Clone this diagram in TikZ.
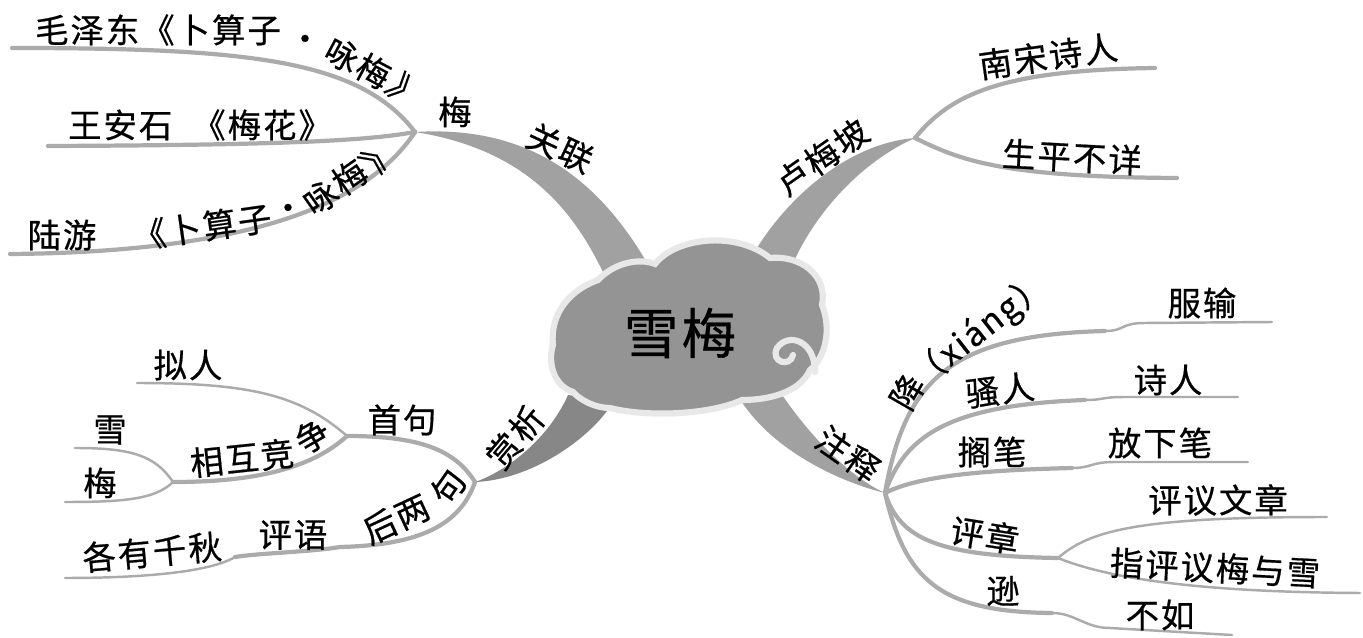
\documentclass[tikz,border=0pt]{standalone}
\usepackage{fontspec}
\newfontfamily\cjk[LetterSpace=6, FakeBold=0.6]{Noto Sans CJK SC}

\begin{document}
\begin{tikzpicture}[
	x=0.02cm, y=-0.02cm,
	txt/.style={inner sep=0pt, font=\cjk\fontsize{19}{22}\selectfont},
	bigtxt/.style={inner sep=0pt, font=\cjk\fontsize{31}{36}\selectfont},
	twig/.style={draw=black!33, line width=2.4pt, line cap=round},
	sprig/.style={draw=black!33, line width=1.4pt, line cap=round},
	limb/.style={fill=black!37},
	cloudy/.style={fill=black!42, draw=black!9, line width=3.5pt},
	swirl/.style={draw=black!9, line width=3.5pt, line cap=round}
	]
	\fill[white] (0,0) rectangle (1363,638);
	\useasboundingbox (0,0) rectangle (1363,638);

	\coordinate (jgl) at (415,132);
	\coordinate (jlu) at (915,138);
	\coordinate (jsx) at (475,482);
	\coordinate (jzs) at (885,493);
	\coordinate (gl1) at (603,272);
	\coordinate (gl2) at (650,268);
	\coordinate (lu1) at (757,248);
	\coordinate (lu2) at (790,270);
	\coordinate (sx1) at (568,395);
	\coordinate (sx2) at (614,401);
	\coordinate (zs1) at (738,396);
	\coordinate (zs2) at (778,389);

	\coordinate (mz) at (12,48);
	\coordinate (wa) at (48,146);
	\coordinate (ly) at (10,254);
	\coordinate (ns) at (1155,68);
	\coordinate (sp) at (1177,178);
	\coordinate (jsj) at (347,436);
	\coordinate (jxh) at (173,482);
	\coordinate (jhl) at (340,547);
	\coordinate (jpy) at (235,557);
	\coordinate (nr) at (137,383);
	\coordinate (xue) at (75,448);
	\coordinate (mei) at (65,502);
	\coordinate (gy) at (65,578);
	\coordinate (jx) at (1105,331);
	\coordinate (jsr) at (1085,400);
	\coordinate (jgb) at (1072,468);
	\coordinate (jpz) at (1058,558);
	\coordinate (jxun) at (1052,613);
	\coordinate (fs) at (1272,322);
	\coordinate (sr) at (1238,397);
	\coordinate (fx) at (1248,462);
	\coordinate (py) at (1327,517);
	\coordinate (zp) at (1360,593);
	\coordinate (br) at (1232,635);

	\fill[limb] (jgl) .. controls (530,125) and (600,180) .. (gl2) -- (gl1) .. controls (575,215) and (530,150) .. (jgl) -- cycle;
	\fill[limb] (jlu) .. controls (850,143) and (790,195) .. (lu1) -- (lu2) .. controls (815,210) and (865,160) .. (jlu) -- cycle;
	\fill[limb, fill=black!47] (jsx) .. controls (505,472) and (548,440) .. (sx1) -- (sx2) .. controls (590,440) and (530,480) .. (jsx) -- cycle;
	\fill[limb] (jzs) .. controls (840,482) and (770,450) .. (zs1) -- (zs2) .. controls (812,440) and (852,478) .. (jzs) -- cycle;

	\draw[twig] (jgl) .. controls (360,60) and (250,48) .. (mz);
	\draw[twig] (jgl) .. controls (370,140) and (300,145) .. (wa);
	\draw[twig] (jgl) .. controls (370,200) and (260,252) .. (ly);
	\draw[twig] (jlu) .. controls (950,95) and (1000,70) .. (ns);
	\draw[twig] (jlu) .. controls (960,160) and (1000,177) .. (sp);

	\draw[twig] (jsx) .. controls (455,450) and (420,436) .. (jsj);
	\draw[twig] (jsx) .. controls (460,525) and (420,545) .. (jhl);
	\draw[sprig] (jsj) .. controls (300,395) and (250,383) .. (nr);
	\draw[twig] (jsj) .. controls (310,470) and (250,482) .. (jxh);
	\draw[sprig] (jxh) .. controls (155,455) and (130,448) .. (xue);
	\draw[sprig] (jxh) .. controls (155,500) and (120,502) .. (mei);
	\draw[twig] (jhl) .. controls (310,552) and (260,553) .. (jpy);
	\draw[sprig] (jpy) .. controls (205,575) and (120,578) .. (gy);

	\draw[twig] (jzs) .. controls (905,380) and (950,335) .. (jx);
	\draw[sprig] (jx) .. controls (1125,331) and (1120,323) .. (1145,323) -- (fs);
	\draw[twig] (jzs) .. controls (905,435) and (950,405) .. (jsr);
	\draw[sprig] (jsr) .. controls (1105,400) and (1100,397) .. (1125,397) -- (sr);
	\draw[twig] (jzs) .. controls (920,475) and (990,470) .. (jgb);
	\draw[sprig] (jgb) .. controls (1092,468) and (1090,462) .. (1115,462) -- (fx);
	\draw[twig] (jzs) .. controls (900,540) and (940,556) .. (jpz);
	\draw[sprig] (jpz) .. controls (1090,530) and (1140,517) .. (py);
	\draw[sprig] (jpz) .. controls (1100,575) and (1180,592) .. (zp);
	\draw[twig] (jzs) .. controls (905,580) and (940,612) .. (jxun);
	\draw[sprig] (jxun) .. controls (1075,613) and (1085,628) .. (1110,628) -- (br);

	\path[cloudy] (573,392) .. controls (552,385) and (548,360) .. (553,345)
		.. controls (550,318) and (565,292) .. (598,280)
		.. controls (615,262) and (640,258) .. (655,264)
		.. controls (675,238) and (735,230) .. (770,258)
		.. controls (800,255) and (828,275) .. (822,305)
		.. controls (832,330) and (825,358) .. (810,370)
		.. controls (800,392) and (770,400) .. (742,400)
		.. controls (712,414) and (650,418) .. (610,408)
		.. controls (595,408) and (580,400) .. (573,392) -- cycle;
	\draw[swirl] (815,372) .. controls (815,340) and (788,332) .. (777,348) .. controls (770,362) and (790,368) .. (793,355);

	\node[bigtxt] (ctr) at (680,333) {雪梅};

	\node[txt] (t-mz) at (158,30) {毛泽东《卜算子};
	\node[txt] (t-mz2) at (305,43) {·};
	\node[txt, rotate=-28] (t-mz3) at (358,63) {咏梅};
	\node[txt, rotate=-45] (t-mz4) at (405,92) {》};
	\node[txt] (t-wa) at (200,125) {王安石\hspace{0.6em}《梅花》};
	\node[txt] (t-ly) at (62,235) {陆游};
	\node[txt, rotate=8] (t-ly2) at (202,227) {《卜算子};
	\node[txt] (t-ly3) at (288,212) {·};
	\node[txt, rotate=35] (t-ly4) at (335,187) {咏梅};
	\node[txt, rotate=55] (t-ly5) at (378,154) {》};
	\node[txt] (t-mei) at (455,112) {梅};
	\node[txt, rotate=-25] (t-gl) at (560,148) {关联};

	\node[txt, rotate=35] (t-lu) at (822,157) {卢梅坡};
	\node[txt, rotate=8] (t-ns) at (1048,56) {南宋诗人};
	\node[txt, rotate=-3] (t-sp) at (1072,157) {生平不详};

	\node[txt, rotate=50] (t-sx) at (515,437) {赏析};
	\node[txt] (t-sj) at (402,420) {首句};
	\node[txt] (t-nr) at (188,365) {拟人};
	\node[txt, rotate=6] (t-xh) at (242,458) {相互竞};
	\node[txt, rotate=30] (t-xh2) at (312,436) {争};
	\node[txt] (t-xue) at (110,430) {雪};
	\node[txt] (t-mei2) at (100,483) {梅};
	\node[txt, rotate=25] (t-hl) at (396,519) {后两};
	\node[txt, rotate=55] (t-hl2) at (448,487) {句};
	\node[txt] (t-py) at (293,535) {评语};
	\node[txt, rotate=5] (t-gy) at (152,552) {各有千秋};

	\node[txt, rotate=-35] (t-zs) at (848,454) {注释};
	\node[txt, rotate=60] (t-xiang) at (907,392) {降};
	\node[txt, rotate=38] (t-xiang2) at (980,331) {（xiáng）};
	\node[txt] (t-fs) at (1202,303) {服输};
	\node[txt, rotate=7] (t-sr) at (1000,390) {骚人};
	\node[txt] (t-sr2) at (1168,380) {诗人};
	\node[txt] (t-gb) at (992,452) {搁笔};
	\node[txt] (t-gb2) at (1160,443) {放下笔};
	\node[txt, rotate=-9] (t-pz) at (985,535) {评章};
	\node[txt] (t-pz2) at (1218,500) {评议文章};
	\node[txt, rotate=-3] (t-zp) at (1215,568) {指评议梅与雪};
	\node[txt] (t-xun) at (1003,591) {逊};
	\node[txt] (t-br) at (1160,615) {不如};
\end{tikzpicture}
\end{document}
